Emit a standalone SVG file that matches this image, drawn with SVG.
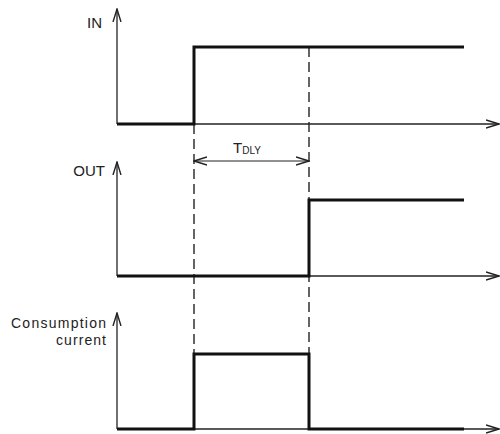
<svg xmlns="http://www.w3.org/2000/svg" width="500" height="434" viewBox="0 0 500 434">
<style>
.axis{stroke:#222;stroke-width:1.3;fill:none}
.sig{stroke:#111;stroke-width:3;fill:none;stroke-linejoin:miter}
.dash{stroke:#111;stroke-width:1.3;stroke-dasharray:10,5;fill:none}
.lbl{font-family:"Liberation Sans",Arial,sans-serif;font-size:15px;fill:#222}
.sm{font-size:14px}
.sub{font-size:10px}
.dim{stroke:#222;stroke-width:1.2;fill:none}
</style>
<defs>
<marker id="ah" viewBox="0 0 14 10" refX="13" refY="5" markerWidth="14" markerHeight="10" markerUnits="userSpaceOnUse" orient="auto-start-reverse">
<path d="M0,1 L13,5 L0,9" fill="none" stroke="#222" stroke-width="1.4"/>
</marker>
</defs>
<g id="connectors">
<line class="dash" x1="194" y1="124" x2="194" y2="354"/>
<line class="dash" x1="309" y1="47" x2="309" y2="429"/>
<line class="dim" x1="194" y1="161" x2="309" y2="161" marker-start="url(#ah)" marker-end="url(#ah)"/>
</g>
<g id="in-chart">
<line class="axis" x1="117" y1="124" x2="499" y2="124" marker-end="url(#ah)"/>
<line class="axis" x1="117" y1="124" x2="117" y2="9" marker-end="url(#ah)"/>
<polyline class="sig" points="117,124 194,124 194,47 464,47"/>
<text class="lbl" x="87" y="28">IN</text>
</g>
<g id="out-chart">
<line class="axis" x1="117" y1="276" x2="499" y2="276" marker-end="url(#ah)"/>
<line class="axis" x1="117" y1="276" x2="117" y2="162" marker-end="url(#ah)"/>
<polyline class="sig" points="117,276 309,276 309,200 464,200"/>
<text class="lbl" x="105" y="176" text-anchor="end">OUT</text>
</g>
<g id="tdly-label">
<text class="lbl" x="233" y="153">T<tspan class="sub" dy="1">DLY</tspan></text>
</g>
<g id="current-chart">
<line class="axis" x1="117" y1="429" x2="499" y2="429" marker-end="url(#ah)"/>
<line class="axis" x1="117" y1="429" x2="117" y2="313" marker-end="url(#ah)"/>
<polyline class="sig" points="117,429 194,429 194,354 309,354 309,429 464,429"/>
<text class="lbl sm" x="106" y="328" text-anchor="end" textLength="95">Consumption</text>
<text class="lbl sm" x="106" y="345" text-anchor="end" textLength="50">current</text>
</g>
</svg>
